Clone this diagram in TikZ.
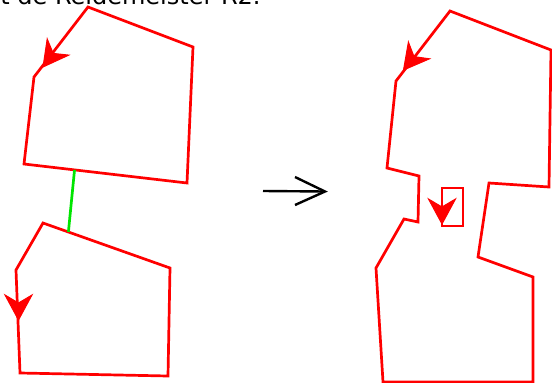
\documentclass[tikz,border=0pt]{standalone}
\usepackage{fontspec}
\setmainfont{DejaVu Sans}
\usetikzlibrary{calc}
\begin{document}
\begin{tikzpicture}[x=1pt,y=-1pt,
  knot/.style={draw=red,line width=2.7pt,line join=miter},
  bridge/.style={draw=green!90!black,line width=2.7pt},
  headfill/.style={fill=red,draw=red,line width=1pt,line join=miter},
  movearrow/.style={draw=black,line width=2.4pt}]
\useasboundingbox (0,0) rectangle (552,383);
% caption (cut off at top)
\node[anchor=base west,inner sep=0pt,font=\fontsize{24}{28}\selectfont] (cap) at (-6.5,4) {it de Reidemeister R2.};
% ---- left: top polygon
\coordinate (a1) at (88,7);
\coordinate (a2) at (193,47);
\coordinate (a3) at (187,183);
\coordinate (a4) at (24,164);
\coordinate (a5) at (34,77);
\draw[knot] (a1) -- (a2) -- (a3) -- (a4) -- (a5) -- cycle;
% ---- left: bottom polygon
\coordinate (b1) at (43,223);
\coordinate (b2) at (170,268);
\coordinate (b3) at (168,376);
\coordinate (b4) at (20,373);
\coordinate (b5) at (16,270);
\draw[knot] (b1) -- (b2) -- (b3) -- (b4) -- (b5) -- cycle;
% green connector
\coordinate (g1) at ($(a4)!0.31!(a3)$);
\coordinate (g2) at ($(b1)!0.2!(b2)$);
\draw[bridge] (g1) -- (g2);
% ---- move arrow
\coordinate (m1) at (263,191);
\coordinate (m2) at (325,191.5);
\coordinate (m3) at (295,177);
\coordinate (m4) at (295,205);
\draw[movearrow] (m1) -- (m2);
\draw[movearrow,line join=miter] (m3) -- (m2) -- (m4);
% ---- right polygon
\coordinate (c1) at (450,11);
\coordinate (c2) at (551,50);
\coordinate (c3) at (549,187);
\coordinate (c4) at (489,183);
\coordinate (c5) at (478,257);
\coordinate (c6) at (533,277);
\coordinate (c7) at (533,382);
\coordinate (c8) at (383,382);
\coordinate (c9) at (376,268);
\coordinate (c10) at (404,219);
\coordinate (c11) at (418,222);
\coordinate (c12) at (419,176);
\coordinate (c13) at (387,168);
\coordinate (c14) at (396,81);
\draw[knot] (c1) -- (c2) -- (c3) -- (c4) -- (c5) -- (c6) -- (c7) -- (c8) -- (c9) -- (c10) -- (c11) -- (c12) -- (c13) -- (c14) -- cycle;
% small loop
\coordinate (r1) at (442,188);
\coordinate (r2) at (463,226);
\draw[knot] (r1) rectangle (r2);
% ---- direction arrowheads
\filldraw[headfill] (43,67) -- (47.2,38.9) -- (53.2,53.4) -- (68.8,55.1) -- cycle;
\filldraw[headfill] (18.5,320) -- (5,295) -- (18.5,303) -- (32,295) -- cycle;
\filldraw[headfill] (403.5,70) -- (408.4,42) -- (414,56.6) -- (429.6,58.8) -- cycle;
\filldraw[headfill] (442,224) -- (428.5,199) -- (442,207) -- (455.5,199) -- cycle;
\end{tikzpicture}
\end{document}
